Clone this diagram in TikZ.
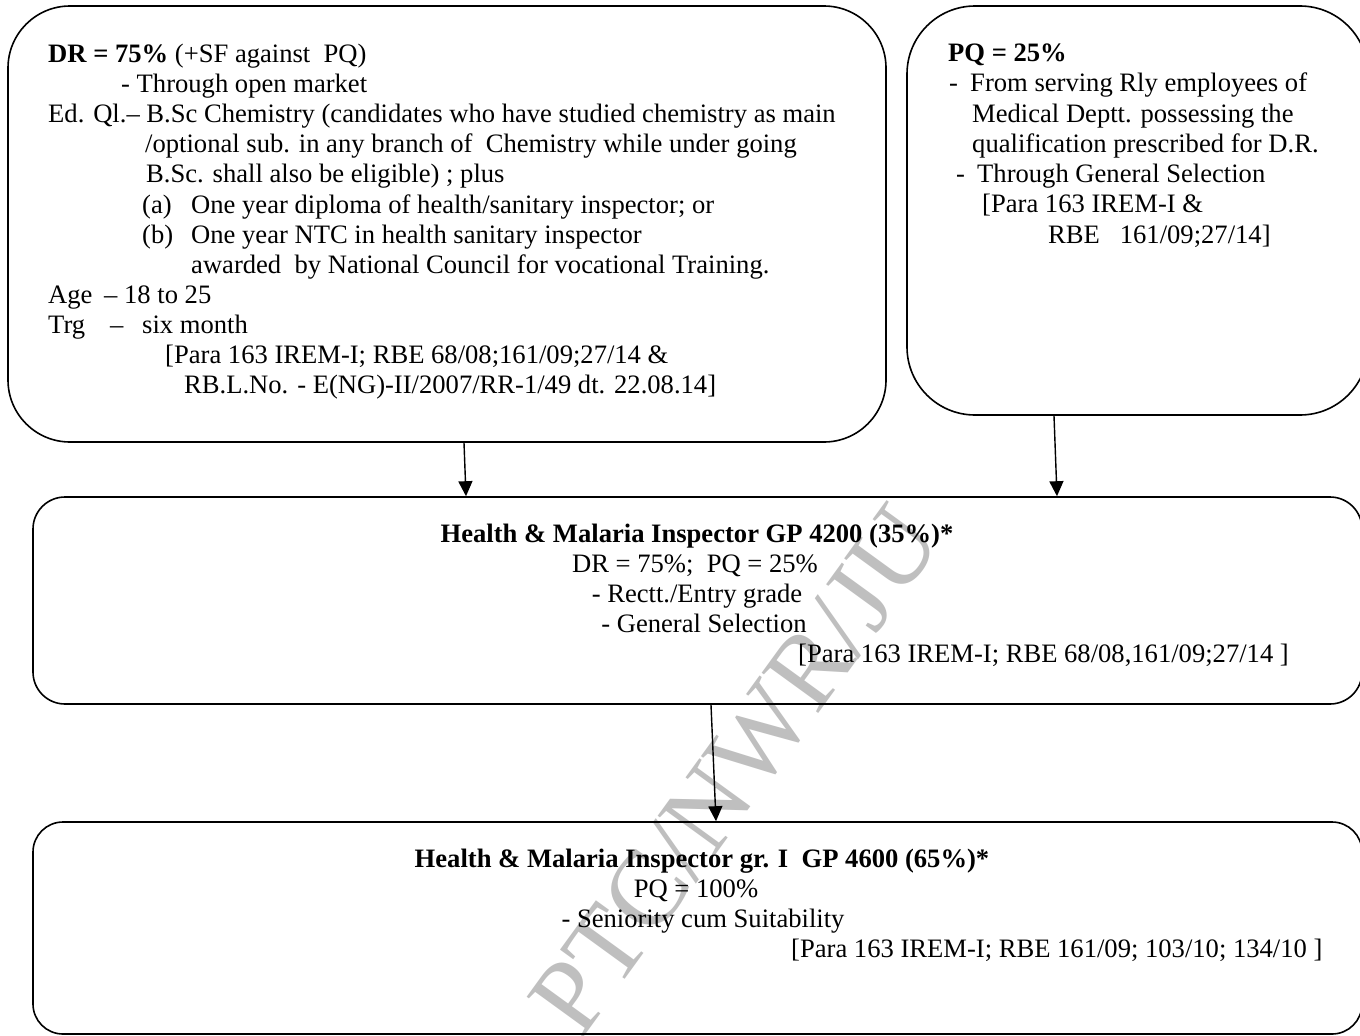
\documentclass[tikz,border=0pt]{standalone}
\usepackage{fontspec}
\setmainfont{Liberation Serif}
\usetikzlibrary{arrows.meta}
\begin{document}
\begin{tikzpicture}[x=1pt,y=-1pt,
  box/.style={draw, line width=1.6pt, rounded corners=#1, inner sep=0pt},
  txt/.style={anchor=base west, inner sep=0pt, font=\fontsize{26.6}{30}\selectfont},
  ctxt/.style={anchor=base, inner sep=0pt, font=\fontsize{26.6}{30}\selectfont},
  arr/.style={line width=1.4pt, -{Triangle[length=15pt,width=14pt]}},
  wmark/.style={rotate=54, inner sep=0pt, text=black!25, font=\fontsize{106}{106}\selectfont}]
\useasboundingbox (0,0) rectangle (1360,1036);
\fill[white] (0,0) rectangle (1360,1036);
% watermark
\node[wmark] (wm) at (735,770) {PTC/NWR/JU};
% boxes
\node[box=62, minimum width=878pt, minimum height=436pt] (dr) at (447,224) {};
\node[box=68, minimum width=461pt, minimum height=409pt] (pq) at (1137.5,210.5) {};
\node[box=32, minimum width=1329pt, minimum height=207pt] (hm1) at (697.5,600.5) {};
\node[box=30, minimum width=1329pt, minimum height=212pt] (hm2) at (697.5,928) {};
% box 1 text
\node[txt] (d1) at (48,62) {\textbf{DR = 75\%} (+SF against\ \ PQ)};
\node[txt] (d2) at (121,92) {- Through open market};
\node[txt] (d3) at (48,122) {Ed. Ql.– B.Sc Chemistry (candidates who have studied chemistry as main};
\node[txt] (d4) at (145,152) {/optional sub. in any branch of\ \ Chemistry while under going};
\node[txt] (d5) at (146,182) {B.Sc. shall also be eligible) ; plus};
\node[txt] (d6a) at (142,213) {(a)};
\node[txt] (d6) at (191,213) {One year diploma of health/sanitary inspector; or};
\node[txt] (d7a) at (142,243) {(b)};
\node[txt] (d7) at (191,243) {One year NTC in health sanitary inspector};
\node[txt] (d8) at (191,273) {awarded\ \ by National Council for vocational Training.};
\node[txt] (d9a) at (48,303) {Age};
\node[txt] (d9) at (104,303) {– 18 to 25};
\node[txt] (d10a) at (48,333) {Trg};
\node[txt] (d10b) at (110,333) {–};
\node[txt] (d10) at (142,333) {six month};
\node[txt] (d11) at (165,363) {[Para 163 IREM-I; RBE 68/08;161/09;27/14 \&};
\node[txt] (d12) at (184,393) {RB.L.No. - E(NG)-II/2007/RR-1/49 dt. 22.08.14]};
% box 2 text
\node[txt] (p1) at (948,61) {\textbf{PQ = 25\%}};
\node[txt] (p2a) at (949,91) {-};
\node[txt] (p2) at (970,91) {From serving Rly employees of};
\node[txt] (p3) at (972,122) {Medical Deptt. possessing the};
\node[txt] (p4) at (972,152) {qualification prescribed for D.R.};
\node[txt] (p5a) at (956,182) {-};
\node[txt] (p5) at (977,182) {Through General Selection};
\node[txt] (p6) at (982,212) {[Para 163 IREM-I \&};
\node[txt] (p7) at (1048,243) {RBE\ \ \ 161/09;27/14]};
% box 3 text
\node[ctxt] (h1) at (697,542) {\textbf{Health \& Malaria Inspector GP 4200 (35\%)*}};
\node[ctxt] (h2) at (695,572) {DR = 75\%;\ \ PQ = 25\%};
\node[ctxt] (h3) at (697,602) {- Rectt./Entry grade};
\node[ctxt] (h4) at (704,632) {- General Selection};
\node[txt] (h5) at (798,662) {[Para 163 IREM-I; RBE 68/08,161/09;27/14 ]};
% box 4 text
\node[ctxt] (g1) at (702,867) {\textbf{Health \& Malaria Inspector gr. I\ \ GP 4600 (65\%)*}};
\node[ctxt] (g2) at (696,897) {PQ = 100\%};
\node[ctxt] (g3) at (703,927) {- Seniority cum Suitability};
\node[txt] (g4) at (791,957) {[Para 163 IREM-I; RBE 161/09; 103/10; 134/10 ]};
% arrows
\draw[arr] ([xshift=17pt]dr.south) -- ([xshift=-231.5pt]hm1.north);
\draw[arr] ([xshift=-83.5pt]pq.south) -- ([xshift=359.5pt]hm1.north);
\draw[arr] ([xshift=13.5pt]hm1.south) -- ([xshift=18.5pt]hm2.north);
\end{tikzpicture}
\end{document}
